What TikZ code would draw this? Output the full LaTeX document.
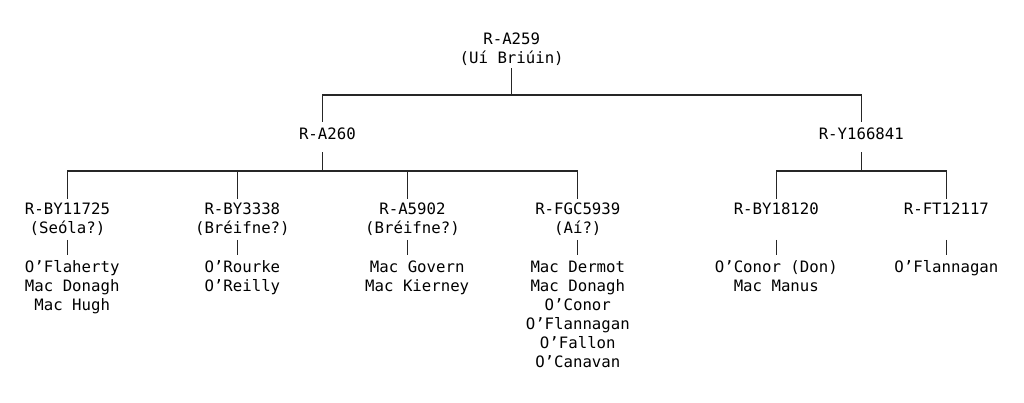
\documentclass[tikz,border=0pt]{standalone}
\usepackage{fontspec}
\setmonofont{DejaVu Sans Mono}
\tikzstyle{tree}=[draw=black!85, line width=1.3pt]
\tikzstyle{snp}=[font=\ttfamily\fontsize{15.7}{19}\selectfont, text=black, align=center, inner xsep=0pt]
\tikzstyle{rootsnp}=[snp, anchor=south, inner ysep=2.6pt]
\tikzstyle{branch}=[snp, anchor=north, inner ysep=6.1pt, text depth=6.3pt]
\tikzstyle{subclade}=[snp, anchor=north, inner ysep=4pt]
\tikzstyle{surnames}=[snp, anchor=north, inner ysep=5.5pt]

\begin{document}
\begin{tikzpicture}[x=1pt, y=-1pt]
\path[fill=white] (0,0) rectangle (1024,402);
% root and first split
\node[rootsnp] (a259) at (511.7, 68) {R-A259\\(Uí Briúin)};
\node[branch] (a260) at (327.4, 121.7) {R-A260};
\node[branch] (y166841) at (861.3, 121.7) {R-Y166841};
\coordinate (ja) at (322.7, 95);
\coordinate (jy) at (861.3, 95);
\draw[tree] (a259.south) -- (a259.south |- ja);
\draw[tree] (ja |- a260.north) -- (ja) -- (jy) -- (y166841.north);

% subclades
\node[subclade] (by11725) at (67.5, 198.7) {R-BY11725\\(Seóla?)};
\node[subclade] (by3338) at (242.35, 198.7) {R-BY3338\\(Bréifne?)};
\node[subclade] (a5902) at (412.45, 198.7) {R-A5902\\(Bréifne?)};
\node[subclade] (fgc5939) at (577.8, 198.7) {R-FGC5939\\(Aí?)};
\node[subclade] (by18120) at (776.3, 198.7) {R-BY18120\\\vphantom{(}};
\node[subclade] (ft12117) at (946.4, 198.7) {R-FT12117\\\vphantom{(}};
\coordinate (ka) at (322.7, 171);
\coordinate (c1) at (67.5, 171);
\coordinate (c2) at (237.6, 171);
\coordinate (c3) at (407.7, 171);
\coordinate (c4) at (577.8, 171);
\coordinate (c5) at (776.3, 171);
\coordinate (c6) at (946.4, 171);
\draw[tree] (a260.south -| ka) -- (ka);
\draw[tree] (c1 |- by11725.north) -- (c1) -- (c4) -- (c4 |- fgc5939.north);
\draw[tree] (c2) -- (c2 |- by3338.north);
\draw[tree] (c3) -- (c3 |- a5902.north);
\draw[tree] (y166841.south) -- (y166841.south |- c5);
\draw[tree] (c5 |- by18120.north) -- (c5) -- (c6) -- (c6 |- ft12117.north);

% surnames
\node[surnames] (famby11725) at (72.25, 255) {O’Flaherty\\Mac Donagh\\Mac Hugh};
\node[surnames] (famby3338) at (242.35, 255) {O’Rourke\\O’Reilly};
\node[surnames] (fama5902) at (417.2, 255) {Mac Govern\\Mac Kierney};
\node[surnames] (famfgc5939) at (577.8, 255) {Mac Dermot\\Mac Donagh\\O’Conor\\O’Flannagan\\O’Fallon\\O’Canavan};
\node[surnames] (famby18120) at (776.3, 255) {O’Conor (Don)\\Mac Manus};
\node[surnames] (famft12117) at (946.4, 255) {O’Flannagan};
\foreach \s/\c in {by11725/c1, by3338/c2, a5902/c3, fgc5939/c4, by18120/c5, ft12117/c6}
  \draw[tree] (\s.south -| \c) -- (\c |- fam\s.north);
\end{tikzpicture}
\end{document}
